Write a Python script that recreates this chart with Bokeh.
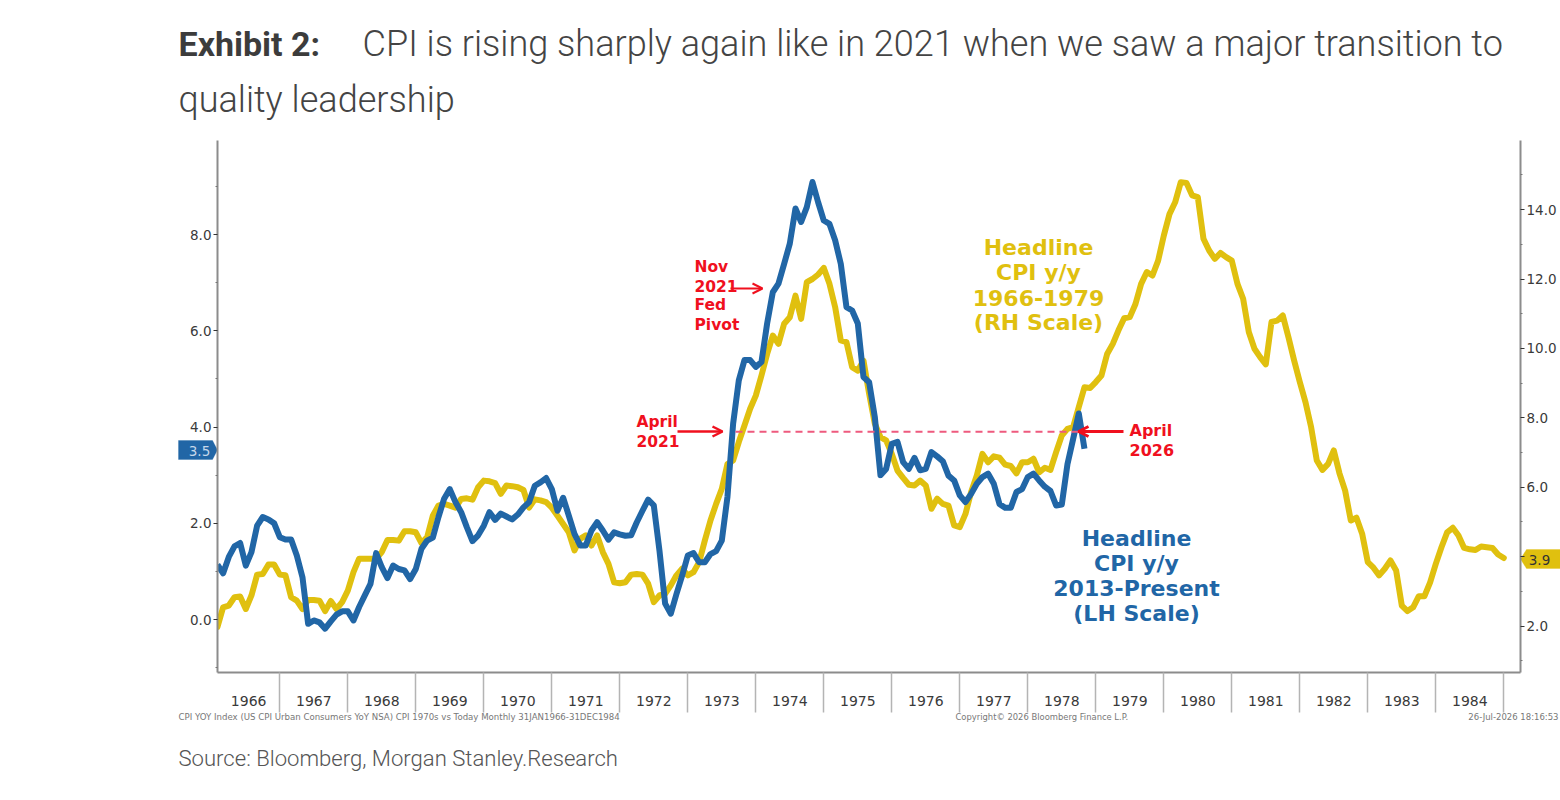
from bokeh.embed import file_html
from bokeh.resources import INLINE
from bokeh.plotting import figure
from bokeh.models import (Range1d, LinearAxis, FixedTicker, Label, Arrow, OpenHead,
                          PolyAnnotation)

# ---- data -----------------------------------------------------------------
start_year = 1966
year_labels = [str(y) for y in range(1966, 1985)]
left_ticks = [0.0, 2.0, 4.0, 6.0, 8.0]
right_ticks = [2.0, 4.0, 6.0, 8.0, 10.0, 12.0, 14.0]

cpi_2013_present = [
    1.14, 0.96, 1.30, 1.52, 1.59, 1.12, 1.40, 1.95, 2.13, 2.08, 2.00, 1.71,
    1.66, 1.66, 1.33, 0.88, -0.09, -0.02, -0.06, -0.19, -0.04, 0.10, 0.17, 0.17,
    -0.02, 0.26, 0.50, 0.74, 1.38, 1.09, 0.86, 1.12, 1.05, 1.02, 0.84, 1.05,
    1.47, 1.64, 1.70, 2.13, 2.51, 2.71, 2.44, 2.23, 1.92, 1.63, 1.75, 1.95,
    2.23, 2.07, 2.20, 2.14, 2.08, 2.18, 2.33, 2.44, 2.78, 2.85, 2.94, 2.71,
    2.26, 2.53, 2.16, 1.78, 1.54, 1.54, 1.85, 2.02, 1.85, 1.66, 1.81, 1.77,
    1.74, 1.75, 2.02, 2.26, 2.49, 2.37, 1.43, 0.33, 0.12, 0.53, 0.91, 1.33,
    1.38, 1.19, 1.19, 1.36, 1.42, 1.64, 2.55, 4.07, 4.97, 5.39, 5.39, 5.25,
    5.35, 6.15, 6.80, 6.98, 7.39, 7.81, 8.54, 8.26, 8.57, 9.09, 8.67, 8.29,
    8.22, 7.88, 7.39, 6.49, 6.42, 6.15, 5.04, 4.93, 4.21, 3.00, 3.13, 3.65,
    3.69, 3.27, 3.13, 3.36, 3.10, 3.13, 3.48, 3.39, 3.29, 2.99, 2.89, 2.58,
    2.44, 2.61, 2.82, 2.96, 3.03, 2.82, 2.40, 2.32, 2.32, 2.65, 2.71, 2.96,
    3.03, 2.89, 2.76, 2.67, 2.37, 2.39, 3.23, 3.75, 4.28, 3.55,
]

cpi_1966_1979 = [
    1.97, 2.54, 2.59, 2.83, 2.85, 2.49, 2.88, 3.48, 3.50, 3.77, 3.77, 3.48,
    3.46, 2.83, 2.73, 2.49, 2.75, 2.75, 2.73, 2.43, 2.72, 2.49, 2.69, 3.02,
    3.55, 3.94, 3.94, 3.94, 3.94, 4.13, 4.48, 4.48, 4.46, 4.73, 4.73, 4.70,
    4.39, 4.56, 5.18, 5.47, 5.52, 5.47, 5.41, 5.66, 5.68, 5.64, 6.00, 6.19,
    6.17, 6.12, 5.81, 6.05, 6.03, 6.00, 5.92, 5.41, 5.65, 5.62, 5.57, 5.41,
    5.18, 4.94, 4.70, 4.18, 4.51, 4.61, 4.32, 4.61, 4.13, 3.79, 3.26, 3.23,
    3.26, 3.48, 3.50, 3.48, 3.22, 2.69, 2.88, 2.93, 3.17, 3.46, 3.65, 3.46,
    3.55, 3.84, 4.46, 5.04, 5.52, 5.95, 6.67, 6.77, 7.30, 7.78, 8.26, 8.64,
    9.22, 9.84, 10.37, 10.13, 10.71, 10.90, 11.52, 10.85, 11.91, 12.00, 12.13, 12.32,
    11.86, 11.19, 10.23, 10.18, 9.46, 9.36, 9.65, 8.69, 7.83, 7.44, 7.35, 6.96,
    6.48, 6.27, 6.07, 6.05, 6.19, 6.05, 5.38, 5.67, 5.52, 5.47, 4.90, 4.85,
    5.23, 5.86, 6.34, 6.96, 6.72, 6.89, 6.85, 6.65, 6.61, 6.40, 6.72, 6.72,
    6.82, 6.43, 6.56, 6.50, 7.01, 7.49, 7.68, 7.73, 8.31, 8.88, 8.86, 9.03,
    9.22, 9.84, 10.13, 10.52, 10.87, 10.90, 11.28, 11.86, 12.20, 12.10, 12.53, 13.25,
    13.87, 14.21, 14.79, 14.77, 14.41, 14.36, 13.16, 12.82, 12.58, 12.75, 12.63, 12.53,
    11.86, 11.43, 10.47, 9.99, 9.75, 9.54, 10.76, 10.80, 10.95, 10.32, 9.65, 9.03,
    8.45, 7.73, 6.77, 6.50, 6.67, 7.06, 6.40, 5.90, 5.04, 5.12, 4.66, 3.84,
    3.68, 3.46, 3.65, 3.89, 3.60, 2.59, 2.43, 2.54, 2.86, 2.86, 3.26, 3.79,
    4.27, 4.70, 4.83, 4.61, 4.25, 4.21, 4.19, 4.29, 4.27, 4.25, 4.06, 3.96,
]

april_level = 3.9      # LH scale level of the dashed reference line
last_left = "3.5"
last_right = "3.9"

BLUE = "#2166a6"
GOLD = "#e0c00f"
RED = "#f0101e"
PINK = "#ee5a7e"
GREY_TEXT = "#3a3a3a"
LIGHT = "Roboto Light, Roboto"

# ---- page-pixel helpers (used only to place annotations) -------------------
def dx(px):
    return start_year + (px - 211.3) / 68.0

def dy(py):
    return (619.0 - py) / 48.125

def month_x(n):
    return [start_year + (i + 1) / 12 for i in range(n)]

# ---- text layer: a canvas-wide frame, so that nothing in it is cut off -------
bg = figure(width=1560, height=800, output_backend="svg", toolbar_location=None,
            x_range=Range1d(0, 1560), y_range=Range1d(800, 0),
            x_axis_location=None, y_axis_location=None, min_border=0,
            outline_line_color=None, background_fill_color="white", border_fill_color="white")
bg.grid.visible = False

# ---- chart layer -------------------------------------------------------------
p = figure(width=1560, height=800, output_backend="svg", toolbar_location=None,
           x_range=Range1d(dx(217), dx(1520)), y_range=Range1d(dy(672), dy(140)),
           min_border_left=217, min_border_right=40, min_border_top=140, min_border_bottom=128,
           outline_line_color=None, background_fill_color=None, border_fill_color=None,
           margin=(-800, 0, 0, 0))
p.grid.visible = False
p.extra_y_ranges = {"rh": Range1d(2 + (625.5 - 672) / 34.7, 2 + (625.5 - 140) / 34.7)}

# axes
ax_b = p.xaxis[0]
mid = [(max(y, dx(217)) + y + 1) / 2 for y in range(1966, 1985)]
ax_b.ticker = FixedTicker(ticks=mid, minor_ticks=list(range(1967, 1986)))
ax_b.major_label_overrides = {m: l for m, l in zip(mid, year_labels)}
ax_b.major_tick_out = 0
ax_b.major_tick_in = 0
ax_b.minor_tick_out = 40
ax_b.minor_tick_in = 0
ax_b.minor_tick_line_color = "#b4b4b4"
ax_b.minor_tick_line_width = 1.5
ax_b.axis_line_color = "#8c8c8c"
ax_b.axis_line_width = 2
ax_b.major_label_standoff = -17
ax_b.major_label_text_font = "DejaVu Sans"
ax_b.major_label_text_font_size = "14px"
ax_b.major_label_text_color = GREY_TEXT

ax_l = p.yaxis[0]
ax_l.ticker = FixedTicker(ticks=left_ticks, minor_ticks=[-1, 1, 3, 5, 7, 9])
ax_l.major_label_overrides = {t: f"{t:.1f}" for t in left_ticks}

ax_r = LinearAxis(y_range_name="rh")
ax_r.ticker = FixedTicker(ticks=right_ticks, minor_ticks=[1, 3, 5, 7, 9, 11, 13, 15, 16])
ax_r.major_label_overrides = {t: ("" if t == 4.0 else f"{t:.1f}") for t in right_ticks}
p.add_layout(ax_r, "right")

for ax in (ax_l, ax_r):
    ax.axis_line_color = "#8c8c8c"
    ax.axis_line_width = 2
    ax.major_tick_out = 4
    ax.major_tick_in = 0
    ax.minor_tick_out = 2
    ax.minor_tick_in = 0
    ax.major_tick_line_color = "#333333"
    ax.minor_tick_line_color = "#777777"
    ax.major_label_standoff = 2
    ax.major_label_text_font = "DejaVu Sans"
    ax.major_label_text_font_size = "13.5px"
    ax.major_label_text_color = GREY_TEXT

# series
p.line(month_x(len(cpi_1966_1979)), cpi_1966_1979, y_range_name="rh",
       line_color=GOLD, line_width=6, line_join="round", line_cap="round")
p.line(month_x(len(cpi_2013_present)), cpi_2013_present,
       line_color=BLUE, line_width=6, line_join="round", line_cap="butt")

# dashed reference line
p.line([dx(735), dx(1078)], [april_level, april_level],
       line_color=PINK, line_width=2, line_dash=[7, 5])

def arrow(x0, y0, x1, y1, width=2.5):
    p.add_layout(Arrow(x_start=dx(x0), y_start=dy(y0), x_end=dx(x1), y_end=dy(y1),
                       line_color=RED, line_width=width,
                       end=OpenHead(size=10, line_color=RED, line_width=width)))

arrow(730, 288, 762, 288, 2)
arrow(677, 431, 722, 431, 2.5)
arrow(1123, 431, 1078, 431, 3)

def text(px, py, s, size, color, font="DejaVu Sans", style="normal", align="left"):
    bg.add_layout(Label(x=px, y=py, text=s, text_font=font,
                        text_font_size=f"{size}px", text_color=color, text_font_style=style,
                        text_align=align, text_baseline="middle"))

# headings
text(178, 43, "Exhibit 2:", 34, "#3c3c3c", "Roboto", "bold")
text(362, 43, "CPI is rising sharply again like in 2021 when we saw a major transition to", 36.1,
     "#444444", LIGHT)
text(178, 99, "quality leadership", 36.1, "#444444", LIGHT)
text(178, 757, "Source: Bloomberg, Morgan Stanley.Research", 22.1, "#555555", LIGHT)

# footers
text(178, 716, "CPI YOY Index (US CPI Urban Consumers YoY NSA) CPI 1970s vs Today Monthly 31JAN1966-31DEC1984",
     8.6, "#777777")
text(955, 716, "Copyright\u00a9 2026 Bloomberg Finance L.P.", 8.4, "#777777")
text(1558, 716, "26-Jul-2026 18:16:53", 8.5, "#777777", align="right")

# series captions
for y, s in zip((247, 272, 297, 322), ("Headline", "CPI y/y", "1966-1979", "(RH Scale)")):
    text(1038, y, s, 22, GOLD, style="bold", align="center")
for y, s in zip((538, 563, 588, 613), ("Headline", "CPI y/y", "2013-Present", "(LH Scale)")):
    text(1136, y, s, 22, BLUE, style="bold", align="center")

# red callouts
for y, s in zip((266, 285, 304, 324), ("Nov", "2021", "Fed", "Pivot")):
    text(694, y, s, 15.5, RED, style="bold")
for y, s in zip((421, 440), ("April", "2021")):
    text(636, y, s, 15.5, RED, style="bold")
for y, s in zip((430, 449), ("April", "2026")):
    text(1129, y, s, 16, RED, style="bold")

# last-value tags
bg.add_layout(PolyAnnotation(xs=[178, 212, 217, 212, 178], ys=[440, 440, 449.5, 459, 459],
                             fill_color=BLUE, fill_alpha=1, line_color=BLUE))
text(199, 450, last_left, 13.5, "#c5d8ea", align="center")
bg.add_layout(PolyAnnotation(xs=[1520, 1526, 1560, 1560, 1526], ys=[558.5, 549, 549, 568, 568],
                             fill_color=GOLD, fill_alpha=1, line_color=GOLD))
text(1539, 559, last_right, 13.5, "#333333", align="center")

open("out.html", "w").write(file_html([bg, p], INLINE))
